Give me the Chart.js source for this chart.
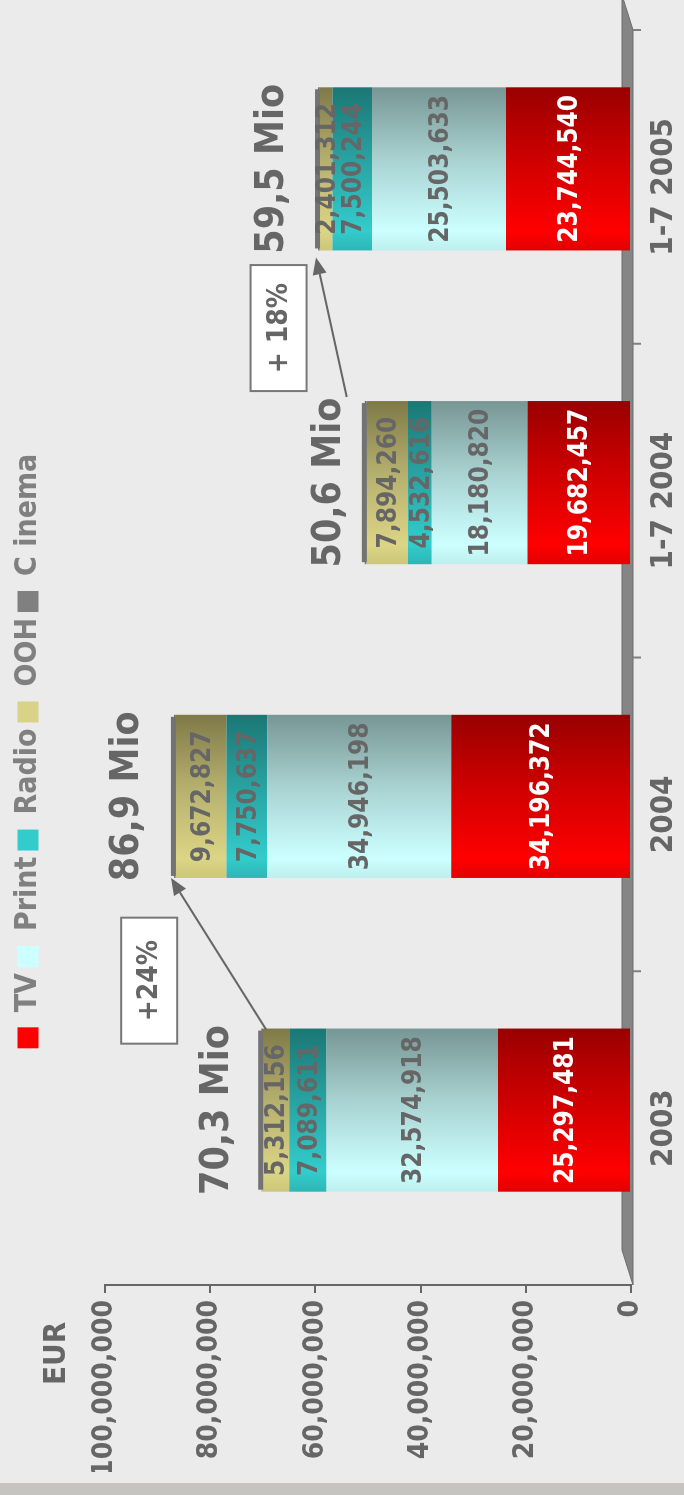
<!DOCTYPE html>
<html>
<head>
<meta charset="utf-8">
<script src="https://cdn.jsdelivr.net/npm/chart.js@4.4.1/dist/chart.umd.min.js"></script>
<style>
  html, body { margin: 0; padding: 0; background: #ebebeb; width: 684px; height: 1495px; overflow: hidden; }
  #wrap { position: absolute; left: 0; top: 0; width: 1495px; height: 684px;
          transform-origin: 0 0; transform: translateY(1495px) rotate(-90deg); }
  #strip { position: absolute; left: 0; top: 1483px; width: 684px; height: 12px; background: #c5c4c1; }
</style>
</head>
<body>
<div id="wrap"><canvas id="chart" width="1495" height="684"></canvas></div>
<div id="strip"></div>
<script>
// data
const years = ["2003", "2004", "1-7 2004", "1-7 2005"];
const mediaNames = ["TV", "Print", "Radio", "OOH", "C inema"];
const tv     = [25297481, 34196372, 19682457, 23744540];
const print  = [32574918, 34946198, 18180820, 25503633];
const radio  = [7089611, 7750637, 4532616, 7500244];
const ooh    = [5312156, 9672827, 7894260, 2401312];
const cinema = [30000, 334000, 310000, 350000];
const growthLabels = ["+24%", "+ 18%"];
const axisUnit = "EUR";

const FONT = '"DejaVu Sans Condensed", "DejaVu Sans", sans-serif';
const SHIFT = 18;        // 3d depth offset of the bars
const BAR_PCT = 0.52;
const GRAY = "#666666";

// colours: edge, light, middle, dark (left -> right across a bar)
const tones = [
  ["#e20000", "#ff0000", "#cf0000", "#990000"],
  ["#bdeeee", "#ccffff", "#a9d3d2", "#779694"],
  ["#2db6b6", "#33cccc", "#29a3a2", "#1b7774"],
  ["#ccc67b", "#dcd585", "#b6b06f", "#7f7948"],
  ["#7a7a7a", "#7a7a7a", "#727272", "#6a6a6a"]
];
const legendColors = ["#ff0000", "#ccffff", "#33cccc", "#d9d389", "#808080"];
const labelColors = ["#ffffff", GRAY, GRAY, GRAY, null];

function fmt(n){ return Number(n).toLocaleString("en-US"); }

function barFill(t){
  return function(c){
    const chart = c.chart;
    const x = chart.scales ? chart.scales.x : null;
    if(!chart.chartArea || !x || c.dataIndex === undefined) return t[1];
    const cx = x.getPixelForValue(c.dataIndex);
    const half = x.width / years.length * BAR_PCT / 2;
    const g = chart.ctx.createLinearGradient(cx - half, 0, cx + half, 0);
    g.addColorStop(0, t[0]);
    g.addColorStop(0.12, t[1]);
    g.addColorStop(0.55, t[2]);
    g.addColorStop(1, t[3]);
    return g;
  };
}

const series = [tv, print, radio, ooh, cinema];
const datasets = series.map((arr, i) => ({
  label: mediaNames[i],
  data: arr,
  backgroundColor: barFill(tones[i]),
  borderWidth: 0,
  barPercentage: BAR_PCT,
  categoryPercentage: 1
}));

function totalAt(i){ return series.reduce((s, arr) => s + arr[i], 0); }

function arrow(ctx, x1, y1, x2, y2){
  const a = Math.atan2(y2 - y1, x2 - x1);
  const hl = 17, hw = 7;
  const bx = x2 - hl * Math.cos(a), by = y2 - hl * Math.sin(a);
  ctx.strokeStyle = GRAY; ctx.fillStyle = GRAY; ctx.lineWidth = 2;
  ctx.beginPath(); ctx.moveTo(x1, y1); ctx.lineTo(bx, by); ctx.stroke();
  ctx.beginPath();
  ctx.moveTo(x2, y2);
  ctx.lineTo(bx + hw * Math.sin(a), by - hw * Math.cos(a));
  ctx.lineTo(bx - hw * Math.sin(a), by + hw * Math.cos(a));
  ctx.closePath(); ctx.fill();
}

// legend needs room below it
const legendGap = {
  id: "legendGap",
  beforeInit(chart){
    const fit = chart.legend.fit;
    chart.legend.fit = function(){ fit.bind(chart.legend)(); this.height += 52; };
  }
};

const depth = {
  id: "depth",
  beforeDatasetsDraw(chart){
    const {ctx} = chart;
    const x = chart.scales.x, y = chart.scales.y;
    const front = y.bottom + 2, back = y.bottom - 9;
    ctx.save();
    ctx.fillStyle = "#858585";
    ctx.strokeStyle = "#6b6b6b";
    ctx.lineWidth = 1;
    ctx.beginPath();
    ctx.moveTo(x.left, front);
    ctx.lineTo(x.right, front);
    ctx.lineTo(x.right + 35, back);
    ctx.lineTo(x.left + 35, back);
    ctx.closePath();
    ctx.fill(); ctx.stroke();
    ctx.strokeStyle = "#808080";
    ctx.lineWidth = 2;
    const step = x.width / years.length;
    for(let k = 1; k <= years.length; k++){
      const px = x.left + k * step;
      ctx.beginPath(); ctx.moveTo(px, front); ctx.lineTo(px, front + 8); ctx.stroke();
    }
    ctx.restore();
    ctx.save();
    ctx.translate(SHIFT, 0);
  },
  afterDatasetsDraw(chart, args, opts){
    const {ctx} = chart;
    ctx.restore();
    const x = chart.scales.x, y = chart.scales.y;
    const half = x.width / years.length * BAR_PCT / 2;

    // top caps
    years.forEach((_, i) => {
      const cx = x.getPixelForValue(i) + SHIFT;
      const top = y.getPixelForValue(totalAt(i));
      ctx.fillStyle = "#737373";
      ctx.fillRect(cx - half + 2, top - 3, half * 2 - 4, 5);
    });

    // segment values
    ctx.textAlign = "center";
    ctx.textBaseline = "middle";
    ctx.font = "bold 26px " + FONT;
    chart.data.datasets.forEach((ds, d) => {
      if(!labelColors[d]) return;
      const meta = chart.getDatasetMeta(d);
      meta.data.forEach((bar, i) => {
        ctx.fillStyle = labelColors[d];
        ctx.fillText(fmt(ds.data[i]), bar.x + SHIFT, (bar.y + bar.base) / 2 + 2);
      });
    });

    // totals
    ctx.fillStyle = GRAY;
    ctx.font = "bold 39px " + FONT;
    ctx.textBaseline = "alphabetic";
    years.forEach((_, i) => {
      const t = totalAt(i);
      const txt = (t / 1e6).toFixed(1).replace(".", ",") + " Mio";
      ctx.fillText(txt, x.getPixelForValue(i) + SHIFT, y.getPixelForValue(t) - opts.totalGap[i]);
    });

    // growth arrows + boxes
    const step = x.width / years.length;
    opts.growth.forEach((g, k) => {
      const x1 = x.getPixelForValue(g.from) + SHIFT + half + g.dx1;
      const y1 = y.getPixelForValue(totalAt(g.from)) + g.dy1;
      const x2 = x.getPixelForValue(g.to) + SHIFT - half + g.dx2;
      const y2 = y.getPixelForValue(totalAt(g.to)) + g.dy2;
      arrow(ctx, x1, y1, x2, y2);
      const bx = x.left + (g.at[0] + 0.5) * step;
      const by = y.getPixelForValue(g.at[1]);
      ctx.fillStyle = "#ffffff";
      ctx.fillRect(bx - 63, by - 28, 126, 56);
      ctx.strokeStyle = "#777777";
      ctx.lineWidth = 2;
      ctx.strokeRect(bx - 63, by - 28, 126, 56);
      ctx.fillStyle = GRAY;
      ctx.font = "bold 28px " + FONT;
      ctx.textBaseline = "middle";
      ctx.fillText(growthLabels[k], bx, by + 1);
    });

    // unit
    ctx.textAlign = "left";
    ctx.textBaseline = "middle";
    ctx.font = "bold 31px " + FONT;
    ctx.fillStyle = GRAY;
    ctx.fillText(axisUnit, 110, 57);
  }
};

new Chart(document.getElementById("chart"), {
  type: "bar",
  data: { labels: years, datasets },
  plugins: [legendGap, depth],
  options: {
    responsive: false,
    animation: false,
    devicePixelRatio: 1,
    layout: { padding: { top: 7, left: 23, right: 30, bottom: 0 } },
    plugins: {
      tooltip: { enabled: false },
      legend: {
        position: "top",
        labels: {
          boxWidth: 21,
          boxHeight: 21,
          padding: 6,
          color: "#808080",
          font: { family: FONT, size: 30, weight: "bold" },
          generateLabels(chart){
            return chart.data.datasets.map((ds, i) => ({
              text: ds.label, fillStyle: legendColors[i], strokeStyle: legendColors[i],
              lineWidth: 0, fontColor: "#808080", hidden: false, datasetIndex: i
            }));
          }
        }
      },
      depth: {
        totalGap: [33, 36, 25, 35],
        growth: [
          { from: 0, to: 1, dx1: -1, dy1: 5, dx2: 0, dy2: -3, at: [0.47, 91.6e6] },
          { from: 2, to: 3, dx1: 4, dy1: -18, dx2: -7, dy2: -2, at: [2.55, 67e6] }
        ]
      }
    },
    scales: {
      x: {
        stacked: true,
        grid: { display: false, drawTicks: false },
        border: { display: false },
        ticks: { color: GRAY, padding: 14, font: { family: FONT, size: 31, weight: "bold" } },
        afterFit(scale){ scale.height = 53; }
      },
      y: {
        stacked: true,
        min: 0,
        max: 100000000,
        ticks: {
          stepSize: 20000000,
          color: GRAY,
          padding: 7,
          font: { family: FONT, size: 28, weight: "bold" },
          callback: v => fmt(v)
        },
        grid: { drawOnChartArea: false, drawTicks: true, tickLength: 8, color: GRAY, lineWidth: 2 },
        border: { display: true, color: GRAY, width: 2 },
        afterFit(scale){ scale.width = 187; }
      }
    }
  }
});
</script>
</body>
</html>
